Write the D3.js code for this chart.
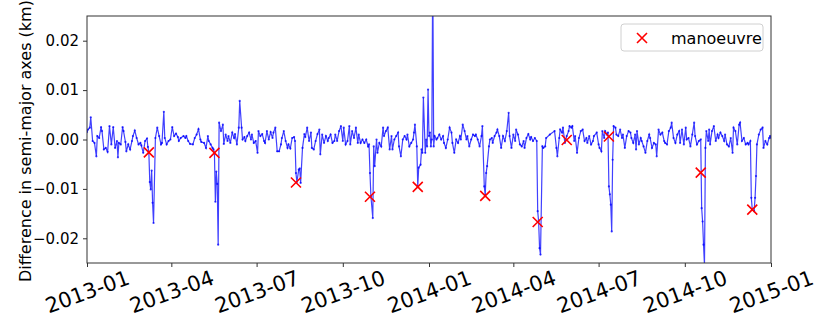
<!DOCTYPE html>
<html>
<head>
<meta charset="utf-8">
<script src="https://cdn.jsdelivr.net/npm/d3@7"></script>
<style>
  body { margin: 0; background: #fff; }
  text { font-family: "DejaVu Sans", sans-serif; fill: #000; }
</style>
</head>
<body>
<svg id="chart" width="830" height="332"></svg>
<script>
// day offsets from 2013-01-01 and the difference in metres at that day
var startDate = Date.UTC(2013, 0, 1);
var dayIndex = [
  0,1,3,4,6,8,10,11,13,15,16,18,20,22,24,26,28,30,32,33,34,36,38,39,41,42,44,46,48,49,51,53,55,57,58,60,62,64,65,66,67,68,69,70,71,73,75,77,79,80,82,83,85,87,89,91,93,95,97,98,100,103,105,106,108,110,113,115,117,119,121,122,125,127,129,130,132,134,135,136,137,138,139,140,141,143,145,
  146,148,150,151,153,155,157,158,160,162,163,165,166,168,169,171,173,175,176,178,180,182,183,185,187,189,190,192,194,196,198,199,201,203,205,207,208,210,212,214,215,217,219,221,222,223,224,226,227,228,230,232,233,235,237,239,240,242,244,246,248,249,251,253,255,257,258,260,262,264,265,267,269,271,273,274,276,278,280,281,283,285,287,289,290,
  292,294,296,298,300,301,302,303,305,306,307,309,310,312,314,316,317,319,321,323,325,326,328,330,332,333,335,337,339,341,342,344,346,348,349,350,352,353,354,356,357,358,359,361,362,363,364,365,366,367,368,369,370,371,373,374,376,378,380,381,383,385,387,389,390,392,394,396,398,399,401,403,405,406,408,410,412,414,415,417,419,421,422,424,425,426,427,429,430,432,433,435,437,438,440,
  442,444,446,448,450,451,453,455,457,458,460,462,464,466,467,469,471,473,474,476,478,480,481,482,483,484,486,487,489,490,494,499,501,502,504,505,507,508,510,512,514,515,517,518,520,521,523,525,527,529,531,533,534,536,538,540,541,544,546,547,549,550,552,553,555,556,557,558,559,560,561,562,564,565,567,569,571,572,574,576,578,580,581,583,585,
  586,587,589,591,592,594,596,598,600,601,603,605,607,608,610,612,614,616,617,619,621,623,624,626,628,630,632,633,635,637,639,640,642,644,646,648,649,651,653,655,656,657,658,659,660,661,663,664,665,667,669,671,673,674,676,678,680,681,683,685,687,689,690,692,694,696,697,699,701,703,705,706,708,709,710,712,713,714,715,717,719,721,722,724,726,728,729,730
];
var deltaMetres = [
  1.5,2.0,2.4,4.5,-0.3,-0.7,-3.4,0.7,0.3,2.5,1.7,-2.0,-1.7,-2.5,2.7,-1.0,2.5,-1.7,-0.3,-3.6,-0.7,-1.0,2.5,1.7,-0.5,-2.4,-1.0,-2.0,-0.3,0.7,1.8,0.3,-1.0,-0.7,-1.2,-2.7,-0.3,0.2,-1.5,-2.6,-8.6,-10.1,-6.3,-12.8,-16.9,0.3,2.4,0.7,-1.0,-0.7,5.6,0.3,-1.0,-0.3,0.0,2.5,0.7,1.2,0.5,-0.3,0.3,0.7,0.3,0.7,-0.3,-0.9,-1.0,0.3,1.0,2.1,0.0,-0.5,-0.7,-1.7,0.7,-0.3,-1.0,-1.7,-2.0,-2.7,-12.6,-6.5,-9.0,-21.3,3.4,1.7,3.0,
  -0.9,1.0,-0.3,0.7,-0.7,1.4,0.3,1.1,-1.0,2.4,7.8,2.4,0.0,0.5,-0.3,0.7,1.4,0.0,1.0,-0.7,-0.3,-2.7,1.7,0.7,1.1,-0.3,-0.7,1.7,0.0,1.5,0.3,1.4,2.4,-2.4,-2.4,-1.0,0.3,1.7,-0.3,-1.7,-1.0,-1.8,0.3,0.5,-0.3,-6.8,-8.6,-6.1,-5.9,-8.8,-1.7,1.1,0.5,2.4,-0.3,1.4,-1.7,-2.0,-0.3,1.1,2.0,-3.0,1.0,-0.7,0.7,-0.3,0.3,1.0,-0.7,-0.3,1.0,-0.3,1.7,2.7,-0.3,2.4,-1.0,-0.3,2.7,-1.0,1.7,0.3,2.4,-0.7,1.0,
  -0.7,0.0,-0.7,0.0,-1.4,-1.0,-6.8,-11.5,-15.9,-1.4,-5.4,0.0,-2.7,-0.7,-1.4,2.4,0.7,1.7,2.4,-2.0,0.7,-2.0,0.0,0.7,1.4,-1.4,-3.4,0.0,0.7,0.0,1.0,-1.4,-0.7,0.0,1.4,3.0,-1.4,-9.5,-5.7,-5.1,-2.0,-2.7,8.5,-2.7,0.0,-1.4,10.1,0.7,1.4,-1.4,0.0,35.0,-1.4,0.7,0.0,0.3,1.0,0.0,0.7,-0.7,-1.7,0.0,2.4,1.4,-0.7,-2.7,0.0,-0.7,0.7,0.0,3.0,1.7,0.0,0.7,-1.4,0.0,1.0,0.7,1.0,0.0,-1.4,0.7,2.7,-9.5,-11.2,-6.8,-5.4,-1.4,0.0,0.3,-0.7,0.7,1.4,2.0,0.7,
  -1.7,0.7,-0.3,1.7,5.4,0.7,-1.7,1.0,-0.3,2.0,1.0,-1.0,-1.4,-0.3,-1.7,0.3,1.1,0.0,0.5,-0.3,0.3,-0.3,-14.5,-16.6,-22.0,-23.3,-1.4,-1.7,-1.4,0.3,1.0,1.7,-1.7,-3.4,0.3,2.0,1.4,2.4,-0.7,0.7,1.7,2.7,2.4,2.7,-0.3,0.7,-2.7,0.3,1.7,2.0,-0.3,0.3,-0.7,0.7,-1.0,-0.3,0.7,1.4,-1.0,-1.7,-2.4,1.7,0.3,1.7,1.0,1.4,-9.5,-11.1,-13.2,-18.6,-4.1,2.7,2.4,1.0,0.7,2.0,0.3,1.0,-1.7,0.7,1.7,1.4,0.3,-0.7,1.0,
  -2.0,1.7,-1.0,0.3,-0.3,-1.4,-2.7,-0.3,1.0,0.3,-1.7,-0.7,-1.0,-3.4,2.0,1.0,1.4,-0.3,-0.7,-1.0,1.7,2.4,3.4,0.3,-0.7,1.0,1.7,-0.7,2.0,-1.0,2.4,0.0,0.3,-1.4,1.0,3.4,0.7,-1.0,-0.3,0.0,-13.9,-16.6,-21.3,-25.5,-1.7,1.7,-0.3,2.0,-1.0,1.7,2.7,-0.3,1.0,0.3,1.4,0.7,-0.3,1.0,-1.0,-1.4,0.3,-2.7,2.4,1.7,-1.0,3.0,3.4,-0.3,0.3,-1.0,-0.7,-1.0,-0.3,-11.8,-14.2,-14.5,-11.8,-7.4,-1.0,1.0,2.0,2.4,-1.7,-0.3,-1.0,0.3,0.7,0.3
];

// manoeuvre epochs (day offsets) and the difference there, metres
var manoeuvreDays = [66, 136, 223, 302, 353, 425, 481, 512, 557, 655, 710];
var manoeuvreDelta = [-2.6, -2.7, -8.7, -11.6, -9.6, -11.4, -16.7, -0.1, 0.6, -6.7, -14.2];

var yTicks = [-0.02, -0.01, 0.0, 0.01, 0.02];
var legendLabel = "manoeuvre";
var yTitle = "Difference in semi-major axes (km)";

var dayMs = 86400000;
function toDate(d) { return new Date(startDate + d * dayMs); }

var series = dayIndex.map(function (d, i) {
  return { date: toDate(d), value: deltaMetres[i] / 1000 };
});
var manoeuvres = manoeuvreDays.map(function (d, i) {
  return { date: toDate(d), value: manoeuvreDelta[i] / 1000 };
});

// plot box
var plotLeft = 87, plotRight = 771, plotTop = 16, plotBottom = 263;

var svg = d3.select("#chart");

var x = d3.scaleUtc()
  .domain([new Date(Date.UTC(2013, 0, 1)), new Date(Date.UTC(2015, 0, 1))])
  .range([plotLeft, plotRight]);
var y = d3.scaleLinear().domain([-0.025, 0.025]).range([plotBottom, plotTop]);

svg.append("clipPath").attr("id", "plotClip")
  .append("rect")
  .attr("x", plotLeft).attr("y", plotTop)
  .attr("width", plotRight - plotLeft).attr("height", plotBottom - plotTop);

var plot = svg.append("g").attr("clip-path", "url(#plotClip)");

var line = d3.line()
  .x(function (d) { return x(d.date); })
  .y(function (d) { return y(d.value); });

plot.append("path")
  .datum(series)
  .attr("d", line)
  .attr("fill", "none")
  .attr("stroke", "#0000ff")
  .attr("stroke-opacity", 0.75)
  .attr("stroke-width", 1.2);

plot.selectAll(".pt")
  .data(series)
  .enter()
  .append("circle")
  .attr("class", "pt")
  .attr("cx", function (d) { return x(d.date); })
  .attr("cy", function (d) { return y(d.value); })
  .attr("r", 1.1)
  .attr("fill", "#0000ff")
  .attr("fill-opacity", 0.75);

// red crosses
var cross = "M-5,-5L5,5M-5,5L5,-5";
plot.selectAll(".man")
  .data(manoeuvres)
  .enter()
  .append("path")
  .attr("class", "man")
  .attr("transform", function (d) {
    return "translate(" + x(d.date) + "," + y(d.value) + ")";
  })
  .attr("d", cross)
  .attr("stroke", "#ff0000")
  .attr("stroke-width", 1.6)
  .attr("fill", "none");

// axes
var yAxis = d3.axisLeft(y)
  .tickValues(yTicks)
  .tickSize(4)
  .tickPadding(4)
  .tickFormat(function (d) { return d3.format(".2f")(d).replace("-", "\u2212"); });

var gy = svg.append("g")
  .attr("transform", "translate(" + plotLeft + ",0)")
  .call(yAxis);
gy.select(".domain").remove();
gy.selectAll("text").style("font-size", "15px").attr("font-family", null);
gy.selectAll("line").attr("stroke", "#333");

var xAxis = d3.axisBottom(x)
  .ticks(d3.utcMonth.every(3))
  .tickSize(4)
  .tickFormat(d3.utcFormat("%Y-%m"));

var gx = svg.append("g")
  .attr("transform", "translate(0," + plotBottom + ")")
  .call(xAxis);
gx.select(".domain").remove();
gx.selectAll("line").attr("stroke", "#333");
gx.selectAll("text")
  .style("font-size", "21px")
  .attr("font-family", null)
  .attr("y", 0)
  .attr("dy", null)
  .attr("text-anchor", "middle")
  .attr("dominant-baseline", "central")
  .attr("transform", "translate(0,29) rotate(-20)");

// frame
svg.append("rect")
  .attr("x", plotLeft).attr("y", plotTop)
  .attr("width", plotRight - plotLeft).attr("height", plotBottom - plotTop)
  .attr("fill", "none")
  .attr("stroke", "#333")
  .attr("stroke-width", 1);

// y title
svg.append("text")
  .attr("transform", "translate(25,141) rotate(-90)")
  .attr("text-anchor", "middle")
  .attr("dominant-baseline", "central")
  .style("font-size", "16px")
  .text(yTitle);

// legend
var lg = svg.append("g").attr("transform", "translate(621,24)");
lg.append("rect")
  .attr("width", 142).attr("height", 27)
  .attr("rx", 3)
  .attr("fill", "#fff").attr("fill-opacity", 0.8)
  .attr("stroke", "#d0d0d0");
lg.append("path")
  .attr("transform", "translate(21,14)")
  .attr("d", cross)
  .attr("stroke", "#ff0000")
  .attr("stroke-width", 1.6)
  .attr("fill", "none");
lg.append("text")
  .attr("x", 50).attr("y", 14)
  .attr("dominant-baseline", "central")
  .style("font-size", "16px")
  .text(legendLabel);
</script>
</body>
</html>
